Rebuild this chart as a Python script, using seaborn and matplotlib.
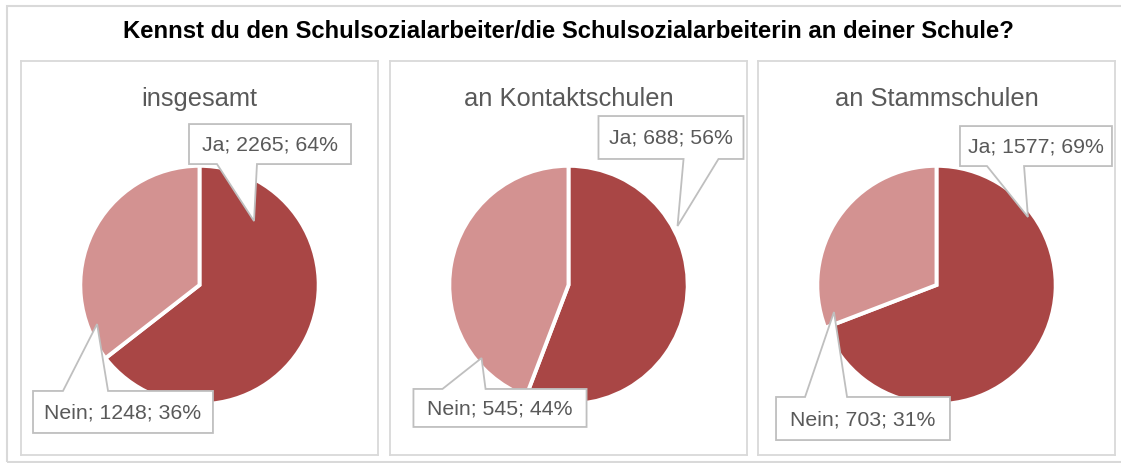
import matplotlib
matplotlib.use("Agg")
import matplotlib.pyplot as plt
from matplotlib.patches import Polygon, Rectangle
import seaborn as sns

# ---------------------------------------------------------------------------
# Data
# ---------------------------------------------------------------------------
title = "Kennst du den Schulsozialarbeiter/die Schulsozialarbeiterin an deiner Schule?"
groups = ["insgesamt", "an Kontaktschulen", "an Stammschulen"]
categories = ["Ja", "Nein"]
ja_counts = [2265, 688, 1577]
nein_counts = [1248, 545, 703]

# callout layout per panel, in pie-radius units: box (x0, x1, y0, y1),
# pointer base (bx0, bx1) and pointer tip (tx, ty)
ja_callouts = [
    ((-0.089, 1.284, 1.025, 1.364), (0.148, 0.487), (0.462, 0.542)),
    ((0.254, 1.483, 1.068, 1.432), (0.975, 1.271), (0.924, 0.500)),
    ((0.199, 1.487, 1.008, 1.347), (0.428, 0.742), (0.775, 0.576)),
]
nein_callouts = [
    ((-1.411, 0.114, -1.254, -0.898), (-1.157, -0.775), (-0.868, -0.331)),
    ((-1.314, 0.153, -1.203, -0.881), (-1.068, -0.703), (-0.737, -0.619)),
    ((-1.360, 0.114, -1.314, -0.949), (-1.114, -0.758), (-0.869, -0.229)),
]

# ---------------------------------------------------------------------------
# Style
# ---------------------------------------------------------------------------
sns.set_style("white")
plt.rcParams["font.family"] = ["Liberation Sans", "DejaVu Sans"]

colors = sns.color_palette(["#A94645", "#D39291"])
TEXT_GREY = "#595959"
FRAME_GREY = "#D9D9D9"
CALLOUT_GREY = "#BFBFBF"

W, H = 1121, 464
fig = plt.figure(figsize=(W / 100, H / 100), dpi=100)

# outer chart frame
fig.patches.append(Rectangle((7 / W, 1 / H), 1.2, (463 - 7) / H,
                             transform=fig.transFigure, fill=False,
                             edgecolor=FRAME_GREY, linewidth=1.5))

fig.text(568 / W, 1 - 32 / H, title, ha="center", va="center",
         fontsize=17.2, fontweight="bold", color="black")


def callout(ax, box, base, tip, text, pointer_on_top):
    x0, x1, y0, y1 = box
    bx0, bx1 = base
    if pointer_on_top:
        verts = [(x0, y0), (x1, y0), (x1, y1), (bx1, y1), tip, (bx0, y1), (x0, y1)]
    else:
        verts = [(x0, y0), (bx0, y0), tip, (bx1, y0), (x1, y0), (x1, y1), (x0, y1)]
    ax.add_patch(Polygon(verts, closed=True, facecolor="white",
                         edgecolor=CALLOUT_GREY, linewidth=1.3,
                         zorder=4, clip_on=False))
    ax.text((x0 + x1) / 2, (y0 + y1) / 2, text, ha="center", va="center",
            fontsize=15.3, color=TEXT_GREY, zorder=5)


R_PX = 118
panel_lefts = [21, 390, 758]
panel_w, panel_top, panel_bottom = 357, 62, 456
center_y = 286

for i, group in enumerate(groups):
    left = panel_lefts[i]
    ax = fig.add_axes([left / W, 1 - panel_bottom / H,
                       panel_w / W, (panel_bottom - panel_top) / H])
    values = [ja_counts[i], nein_counts[i]]
    total = sum(values)

    ax.pie(values, colors=colors, startangle=90, counterclock=False,
           radius=1.01, wedgeprops=dict(edgecolor="white", linewidth=2.8))

    half_w = panel_w / 2 / R_PX
    ax.set_xlim(-half_w, half_w)
    ax.set_ylim(-(panel_bottom - center_y) / R_PX, (center_y - panel_top) / R_PX)
    ax.set_aspect("auto")
    ax.set_frame_on(True)
    ax.set_xticks([])
    ax.set_yticks([])
    for spine in ax.spines.values():
        spine.set_visible(True)
        spine.set_color(FRAME_GREY)
        spine.set_linewidth(1.3)

    ax.text(0, (center_y - 99) / R_PX, group, ha="center", va="center",
            fontsize=18.4, color=TEXT_GREY)

    for (box, base, tip), count, cat, on_top in (
        (ja_callouts[i], ja_counts[i], categories[0], False),
        (nein_callouts[i], nein_counts[i], categories[1], True),
    ):
        pct = round(100 * count / total)
        callout(ax, box, base, tip, f"{cat}; {count}; {pct}%", on_top)

fig.savefig("out.png", dpi=100)
